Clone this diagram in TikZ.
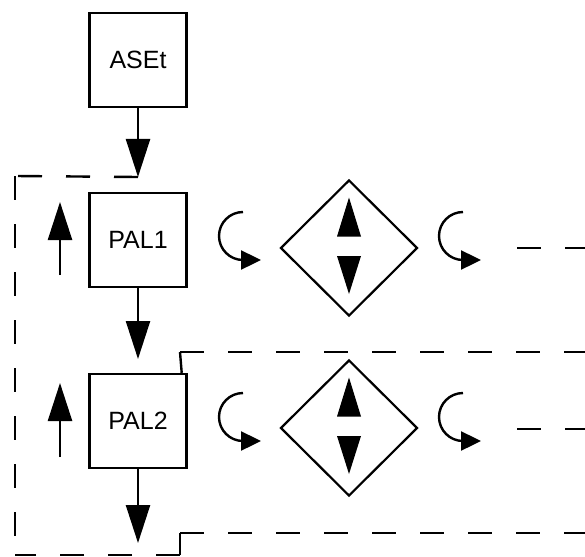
\documentclass[tikz,border=0pt]{standalone}
\usepackage{fontspec}
\setmainfont{Liberation Sans}
\usetikzlibrary{arrows.meta,shapes.geometric}

\tikzset{
  box/.style={draw,line width=2.4pt,minimum width=97pt,minimum height=94pt,
    inner sep=0pt,font=\fontsize{25}{30}\selectfont},
  keys/.style={draw,diamond,aspect=1,line width=2.2pt,minimum width=137pt,
    minimum height=136pt,inner sep=0pt},
  flow/.style={line width=2.4pt,-{Triangle[width=24pt,length=38pt]}},
  turn/.style={line width=2.4pt,-{Triangle[width=19pt,length=20pt]}},
  frame/.style={line width=2.4pt,dash pattern=on 24pt off 24pt},
}

\begin{document}
\begin{tikzpicture}[x=1pt,y=-1pt]
  \useasboundingbox (0,0) rectangle (585,556);

  \node[box] (aset) at (138,60) {ASEt};
  \node[box] (pal1) at (138,240) {PAL1};
  \node[box] (pal2) at (138,421) {PAL2};
  \node[keys] (keys1) at (349,248) {};
  \node[keys] (keys2) at (349,428) {};

  % arrow ends and corners of the frames
  \coordinate (in1) at (138,177);
  \coordinate (in2) at (138,359);
  \coordinate (out) at (138,543);
  \coordinate (back1) at (60,275);
  \coordinate (top1) at (60,202);
  \coordinate (back2) at (60,457);
  \coordinate (top2) at (60,383);

  \draw[flow] (aset) -- (in1);
  \draw[flow] (pal1) -- (in2);
  \draw[flow] (pal2) -- (out);
  \draw[flow] (back1) -- (top1);
  \draw[flow] (back2) -- (top2);

  % up/down keys
  \foreach \k in {keys1,keys2} {
    \fill ([shift={(-12,-11.5)}]\k.center) -- ([shift={(12,-11.5)}]\k.center)
      -- ([shift={(0,-50.5)}]\k.center) -- cycle;
    \fill ([shift={(-12,8)}]\k.center) -- ([shift={(12,8)}]\k.center)
      -- ([shift={(0,46)}]\k.center) -- cycle;
  }

  % curls
  \foreach \y in {212,393} {
    \draw[turn] (243,\y) arc[start angle=270,end angle=90,radius=24]
      -- ++(18,0);
    \draw[turn] (463,\y) arc[start angle=270,end angle=90,radius=24]
      -- ++(18,0);
  }

  % dashed frames
  \draw[frame] (in1) -- (15,176);
  \draw[frame] (15,176) -- (15,555);
  \draw[frame] (180,555) -- (15,555);
  \draw[line width=2.4pt] (180,555) -- (180,533);
  \draw[frame] (180,533) -- (585,533);
  \draw[line width=2.4pt] ([xshift=-6pt]pal2.north east) -- (180,352);
  \draw[frame] (180,352) -- (585,352);
  \draw[frame] (517,248) -- (585,248);
  \draw[frame] (517,429) -- (585,429);
\end{tikzpicture}
\end{document}
